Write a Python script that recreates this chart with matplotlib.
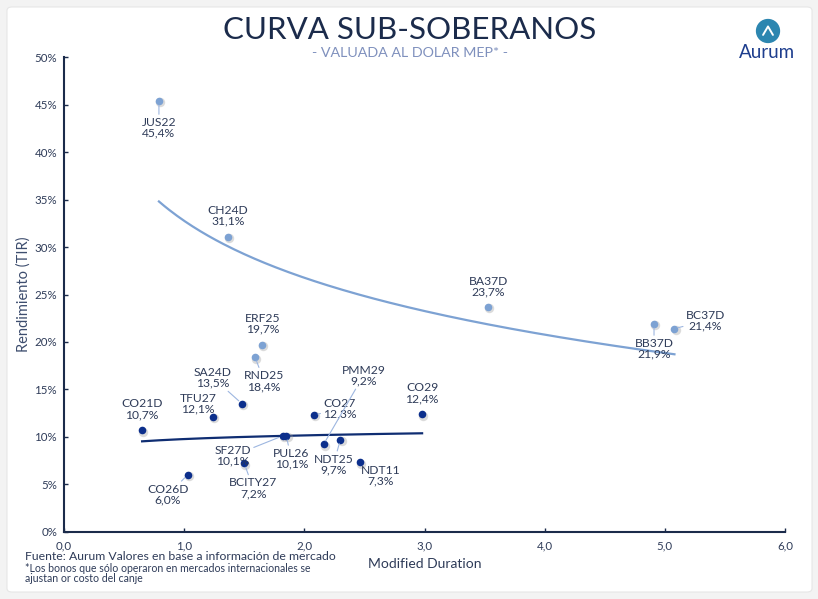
import numpy as np
import matplotlib
matplotlib.use("Agg")
import matplotlib.pyplot as plt
import matplotlib.transforms as mtransforms
from matplotlib.patches import FancyBboxPatch, Circle
from matplotlib.ticker import FuncFormatter, MultipleLocator

plt.rcParams['font.family'] = ['Lato', 'DejaVu Sans']

# bonos (curva superior, azul claro)
light_names = ['JUS22', 'CH24D', 'BA37D', 'BB37D', 'BC37D', 'ERF25', 'RND25']
light_dur = [0.79, 1.365, 3.53, 4.91, 5.08, 1.65, 1.59]
light_tir = [45.4, 31.1, 23.7, 21.9, 21.4, 19.7, 18.4]

# bonos (curva inferior, azul oscuro)
dark_names = ['SA24D', 'TFU27', 'CO21D', 'CO27', 'CO29', 'SF27D', 'PUL26',
              'BCITY27', 'CO26D', 'NDT25', 'PMM29', 'NDT11']
dark_dur = [1.48, 1.24, 0.65, 2.08, 2.98, 1.82, 1.85, 1.50, 1.03, 2.30, 2.16, 2.46]
dark_tir = [13.5, 12.1, 10.7, 12.3, 12.4, 10.1, 10.1, 7.2, 6.0, 9.7, 9.2, 7.3]

# posición de etiquetas (offset en px, leader line)
label_pos = {
    'JUS22': (0, -27, True), 'CH24D': (0, 21, False), 'BA37D': (0, 20, False),
    'BB37D': (0, -25, True), 'BC37D': (31, 8, True), 'ERF25': (0, 21, False),
    'RND25': (9, -24, True), 'SA24D': (-29, 26, True), 'TFU27': (-15, 13, False),
    'CO21D': (0, 21, False), 'CO27': (26, 6, True), 'CO29': (0, 21, False),
    'SF27D': (-50, -20, True), 'PUL26': (5, -23, True), 'BCITY27': (9, -25, True),
    'CO26D': (-20, -20, True), 'NDT25': (-7, -25, True), 'PMM29': (40, 69, True),
    'NDT11': (21, -13, False),
}

navy = '#1b2b4b'
dark_blue = '#0c2f8c'
light_blue = '#7da2d3'
text_col = '#2e3b58'


def fmt_pct(v):
    return ('%.1f%%' % v).replace('.', ',')


fig = plt.figure(figsize=(8.18, 5.99), dpi=100)
fig.patch.set_facecolor('#f3f3f3')
fig.patches.append(FancyBboxPatch((7 / 818, 7 / 599), 805 / 818, 585 / 599,
                                  boxstyle='round,pad=0,rounding_size=0.006',
                                  transform=fig.transFigure, facecolor='white',
                                  edgecolor='#e6e6e6', lw=0.8, zorder=-5))

ax = fig.add_axes([64 / 818, 1 - 531.7 / 599, 721 / 818, 474.4 / 599])
ax.set_facecolor('none')
ax.set_xlim(0, 6)
ax.set_ylim(0, 50)

# tendencias logarítmicas
for xs, ys, col, lw in [(light_dur, light_tir, light_blue, 1.6),
                        (dark_dur, dark_tir, '#0f2d72', 1.6)]:
    xs = np.array(xs)
    b, a = np.polyfit(np.log(xs), np.array(ys), 1)
    xx = np.linspace(xs.min(), xs.max(), 200)
    ax.plot(xx, a + b * np.log(xx), color=col, lw=lw, zorder=2)

shadow = mtransforms.offset_copy(ax.transData, fig=fig, x=1.2, y=-1.5, units='dots')
for xs, ys, col in [(light_dur, light_tir, light_blue), (dark_dur, dark_tir, dark_blue)]:
    ax.scatter(xs, ys, s=46, color='#9a9a9a', alpha=0.35, lw=0, transform=shadow, zorder=3)
    ax.scatter(xs, ys, s=30, color=col, lw=0, zorder=4)

for names, xs, ys in [(light_names, light_dur, light_tir), (dark_names, dark_dur, dark_tir)]:
    for n, x, y in zip(names, xs, ys):
        dx, dy, lead = label_pos[n]
        ap = dict(arrowstyle='-', color='#9db6e0', lw=0.8, shrinkA=0, shrinkB=3) if lead else None
        ax.annotate(n + '\n' + fmt_pct(y), (x, y), xytext=(dx * 0.72, dy * 0.72),
                    textcoords='offset points', ha='center', va='center',
                    fontsize=8.7, color=text_col, linespacing=0.98,
                    arrowprops=ap, zorder=5)

for s in ['top', 'right']:
    ax.spines[s].set_visible(False)
for s in ['left', 'bottom']:
    ax.spines[s].set_color(navy)
    ax.spines[s].set_linewidth(1.5)

ax.xaxis.set_major_locator(MultipleLocator(1))
ax.yaxis.set_major_locator(MultipleLocator(5))
ax.xaxis.set_major_formatter(FuncFormatter(lambda v, p: ('%.1f' % v).replace('.', ',')))
ax.yaxis.set_major_formatter(FuncFormatter(lambda v, p: '%d%%' % v))
ax.tick_params(direction='in', length=3, width=1, color=navy, labelsize=8.3,
               labelcolor=text_col)
ax.tick_params(axis='x', pad=6)
ax.tick_params(axis='y', pad=5)

ax.set_ylabel('Rendimiento (TIR)', fontsize=10.5, color='#3d4d6e', labelpad=3)
ax.set_xlabel('Modified Duration', fontsize=10, color=text_col, labelpad=5)

fig.text(410 / 818, 1 - 30 / 599, 'CURVA SUB-SOBERANOS', ha='center', va='center',
         fontsize=22.5, color=navy)
fig.text(410 / 818, 1 - 53 / 599, '- VALUADA AL DOLAR MEP* -', ha='center', va='center',
         fontsize=10.3, color='#7f90bd')

fig.text(25 / 818, 1 - 556 / 599, 'Fuente: Aurum Valores en base a información de mercado',
         ha='left', va='center', fontsize=8.8, color=text_col)
fig.text(25 / 818, 1 - 573.5 / 599,
         '*Los bonos que sólo operaron en mercados internacionales se\najustan or costo del canje',
         ha='left', va='center', fontsize=7.6, color=text_col, linespacing=0.95)

# logo
logo = fig.add_axes([755 / 818, 1 - 44 / 599, 26 / 818, 26 / 599])
logo.set_xlim(-1, 1)
logo.set_ylim(-1, 1)
logo.set_aspect('equal')
logo.axis('off')
logo.add_patch(Circle((0, 0), 0.88, color='#2c86b0'))
logo.plot([-0.38, 0, 0.38], [-0.3, 0.35, -0.3], color='white', lw=1.4, solid_capstyle='round')
fig.text(767 / 818, 1 - 53 / 599, 'Aurum', ha='center', va='center', fontsize=13.5,
         color='#1e3e8e')

fig.savefig('out.png', dpi=100, facecolor=fig.get_facecolor())
